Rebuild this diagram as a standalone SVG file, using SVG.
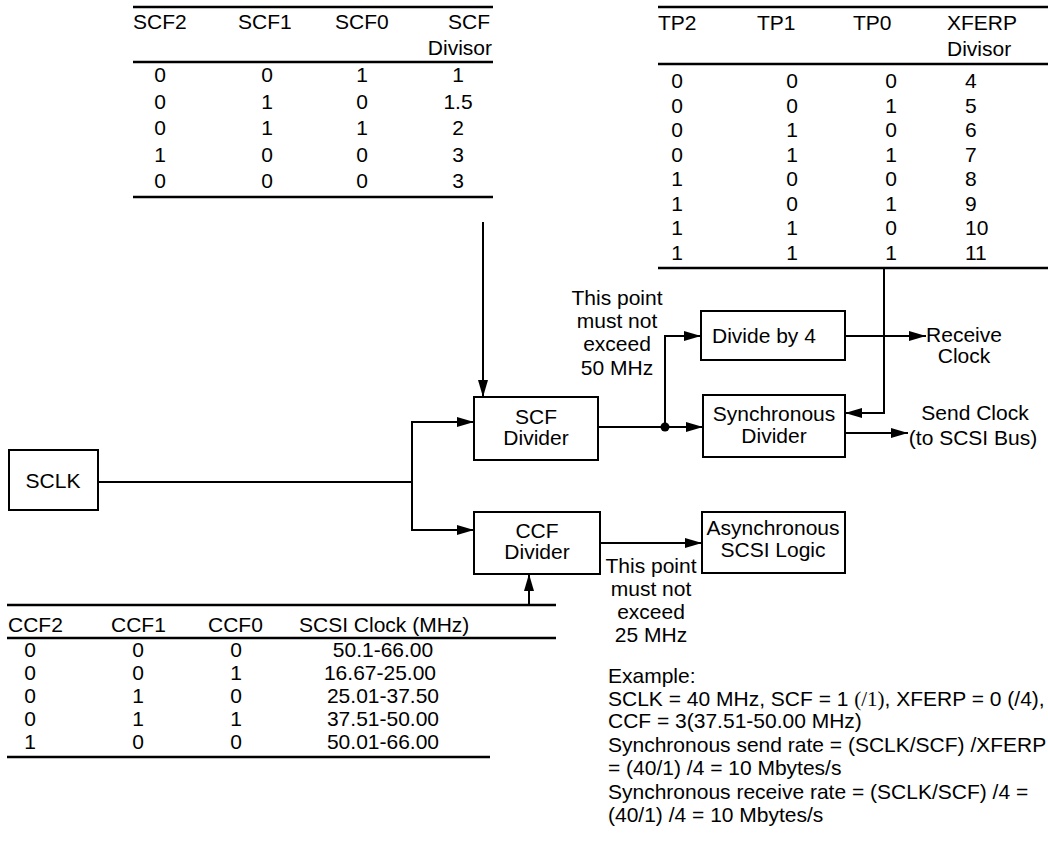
<svg xmlns="http://www.w3.org/2000/svg" width="1048" height="842" viewBox="0 0 1048 842">
<defs>
<marker id="ah" markerWidth="17" markerHeight="10" refX="17" refY="5" orient="auto" markerUnits="userSpaceOnUse"><path d="M0,0 L17,5 L0,10 z" fill="#000"/></marker>
<style>
text{font-family:"Liberation Sans",Arial,Helvetica,sans-serif;font-size:21px;fill:#000}
.m{text-anchor:middle}
.e{text-anchor:end}
.rule{stroke:#000;stroke-width:2.5;fill:none}
.box{fill:#fff;stroke:#000;stroke-width:2}
.wire{stroke:#000;stroke-width:2;fill:none}
.arr{stroke:#000;stroke-width:2;fill:none;marker-end:url(#ah)}
.serif{font-family:"Liberation Serif","Times New Roman",serif}
</style>
</defs>
<rect width="1048" height="842" fill="#fff"/>

<g id="scf-table">
<line class="rule" x1="133" y1="7" x2="493" y2="7"/>
<line class="rule" x1="133" y1="62" x2="493" y2="62"/>
<line class="rule" x1="133" y1="197" x2="493" y2="197"/>
<text x="133" y="29">SCF2</text><text x="238" y="29">SCF1</text><text x="335" y="29">SCF0</text><text class="e" x="490" y="29">SCF</text>
<text class="e" x="492" y="55">Divisor</text>
<g class="m">
<text x="160" y="82">0</text><text x="267" y="82">0</text><text x="362" y="82">1</text><text x="458" y="82">1</text>
<text x="160" y="109">0</text><text x="267" y="109">1</text><text x="362" y="109">0</text><text x="458" y="109">1.5</text>
<text x="160" y="135">0</text><text x="267" y="135">1</text><text x="362" y="135">1</text><text x="458" y="135">2</text>
<text x="160" y="162">1</text><text x="267" y="162">0</text><text x="362" y="162">0</text><text x="458" y="162">3</text>
<text x="160" y="188">0</text><text x="267" y="188">0</text><text x="362" y="188">0</text><text x="458" y="188">3</text>
</g>
</g>

<g id="tp-table">
<line class="rule" x1="658" y1="7" x2="1048" y2="7"/>
<line class="rule" x1="658" y1="64" x2="1048" y2="64"/>
<line class="rule" x1="658" y1="268" x2="1048" y2="268"/>
<text x="658" y="30">TP2</text><text x="757" y="30">TP1</text><text x="853" y="30">TP0</text><text x="947" y="30">XFERP</text>
<text x="947" y="56">Divisor</text>
<g class="m">
<text x="677" y="88">0</text><text x="792" y="88">0</text><text x="891" y="88">0</text>
<text x="677" y="112.5">0</text><text x="792" y="112.5">0</text><text x="891" y="112.5">1</text>
<text x="677" y="137">0</text><text x="792" y="137">1</text><text x="891" y="137">0</text>
<text x="677" y="161.5">0</text><text x="792" y="161.5">1</text><text x="891" y="161.5">1</text>
<text x="677" y="186">1</text><text x="792" y="186">0</text><text x="891" y="186">0</text>
<text x="677" y="210.5">1</text><text x="792" y="210.5">0</text><text x="891" y="210.5">1</text>
<text x="677" y="235">1</text><text x="792" y="235">1</text><text x="891" y="235">0</text>
<text x="677" y="259.5">1</text><text x="792" y="259.5">1</text><text x="891" y="259.5">1</text>
</g>
<text x="965" y="88">4</text><text x="965" y="112.5">5</text><text x="965" y="137">6</text><text x="965" y="161.5">7</text>
<text x="965" y="186">8</text><text x="965" y="210.5">9</text><text x="965" y="235">10</text><text x="965" y="259.5">11</text>
</g>

<g id="ccf-table">
<line class="rule" x1="7" y1="605" x2="556" y2="605"/>
<line class="rule" x1="7" y1="638" x2="556" y2="638"/>
<line class="rule" x1="7" y1="757" x2="490" y2="757"/>
<text x="8" y="632">CCF2</text><text x="111" y="632">CCF1</text><text x="208" y="632">CCF0</text><text x="299" y="632">SCSI Clock (MHz)</text>
<g class="m">
<text x="30" y="657">0</text><text x="138" y="657">0</text><text x="236" y="657">0</text><text x="383" y="657">50.1-66.00</text>
<text x="30" y="680">0</text><text x="138" y="680">0</text><text x="236" y="680">1</text><text x="380" y="680">16.67-25.00</text>
<text x="30" y="703">0</text><text x="138" y="703">1</text><text x="236" y="703">0</text><text x="383" y="703">25.01-37.50</text>
<text x="30" y="726">0</text><text x="138" y="726">1</text><text x="236" y="726">1</text><text x="383" y="726">37.51-50.00</text>
<text x="30" y="749">1</text><text x="138" y="749">0</text><text x="236" y="749">0</text><text x="383" y="749">50.01-66.00</text>
</g>
</g>

<g id="connectors">
<line class="wire" x1="98" y1="482" x2="412" y2="482"/>
<line class="wire" x1="412" y1="421" x2="412" y2="531"/>
<line class="arr" x1="411" y1="422" x2="474" y2="422"/>
<line class="arr" x1="411" y1="530" x2="474" y2="530"/>
<line class="arr" x1="483" y1="222" x2="483" y2="397"/>
<line class="arr" x1="529" y1="605" x2="529" y2="574"/>
<line class="arr" x1="598" y1="427" x2="703" y2="427"/>
<polyline class="arr" points="665,427 665,336 701,336"/>
<circle cx="665" cy="427" r="4.5" fill="#000"/>
<line class="arr" x1="845" y1="336" x2="926" y2="336"/>
<polyline class="arr" points="884,268 884,413 845,413"/>
<line class="arr" x1="845" y1="433" x2="908" y2="433"/>
<line class="arr" x1="600" y1="543" x2="702" y2="543"/>
</g>

<g id="sclk">
<rect class="box" x="9" y="450" width="89" height="60"/>
<text class="m" x="53" y="488">SCLK</text>
</g>
<g id="scf-divider">
<rect class="box" x="474" y="397" width="124" height="63"/>
<text class="m" x="536" y="424">SCF</text><text class="m" x="536" y="445">Divider</text>
</g>
<g id="ccf-divider">
<rect class="box" x="474" y="512" width="126" height="62"/>
<text class="m" x="537" y="538">CCF</text><text class="m" x="537" y="559">Divider</text>
</g>
<g id="divide-by-4">
<rect class="box" x="701" y="311" width="144" height="49"/>
<text x="712" y="343">Divide by 4</text>
</g>
<g id="sync-divider">
<rect class="box" x="703" y="395" width="142" height="62"/>
<text class="m" x="774" y="421">Synchronous</text><text class="m" x="774" y="443">Divider</text>
</g>
<g id="async-logic">
<rect class="box" x="702" y="512" width="143" height="61"/>
<text class="m" x="773" y="535">Asynchronous</text><text class="m" x="773" y="557">SCSI Logic</text>
</g>

<g id="labels">
<text class="m" x="617" y="305">This point</text>
<text class="m" x="617" y="328">must not</text>
<text class="m" x="617" y="351">exceed</text>
<text class="m" x="617" y="375">50 MHz</text>
<text class="m" x="964" y="342">Receive</text>
<text class="m" x="964" y="363">Clock</text>
<text class="m" x="975" y="420">Send Clock</text>
<text class="m" x="973" y="445">(to SCSI Bus)</text>
<text class="m" x="651" y="573">This point</text>
<text class="m" x="651" y="596">must not</text>
<text class="m" x="651" y="619">exceed</text>
<text class="m" x="651" y="642">25 MHz</text>
</g>

<g id="example">
<text x="608" y="683">Example:</text>
<text x="608" y="706">SCLK = 40 MHz, SCF = 1 <tspan class="serif">(/1)</tspan>, XFERP = 0 (/4),</text>
<text x="608" y="728">CCF = 3(37.51-50.00 MHz)</text>
<text x="608" y="752">Synchronous send rate = (SCLK/SCF) /XFERP</text>
<text x="608" y="775">= (40/1) /4 = 10 Mbytes/s</text>
<text x="608" y="799">Synchronous receive rate = (SCLK/SCF) /4 =</text>
<text x="608" y="822">(40/1) /4 = 10 Mbytes/s</text>
</g>
</svg>
